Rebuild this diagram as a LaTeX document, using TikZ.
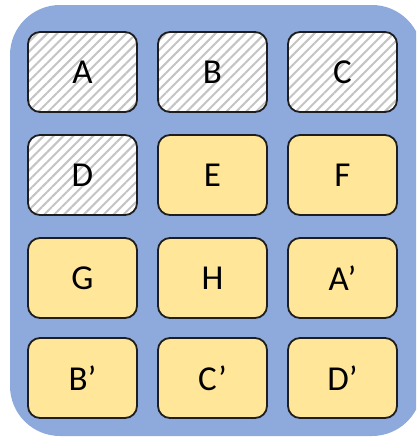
\documentclass[tikz,border=0pt]{standalone}
\usepackage{fontspec}
\setmainfont{Carlito}
\usetikzlibrary{patterns.meta}
\definecolor{bgblue}{HTML}{8EA9DB}
\definecolor{boxyellow}{HTML}{FFE699}
\definecolor{edge}{HTML}{1E1E1E}
\definecolor{hatch}{HTML}{C4C4C4}
\tikzset{
  cell/.style={draw=edge, line width=1.8pt, rounded corners=12pt,
    minimum width=109pt, minimum height=80pt, inner sep=0pt,
    font=\fontsize{35}{35}\selectfont},
  filled/.style={cell, fill=boxyellow},
  hatched/.style={cell, preaction={fill=white},
    preaction={pattern={Lines[angle=45, distance=7pt, line width=2pt]}, pattern color=hatch}},
}
\begin{document}
\begin{tikzpicture}[x=1pt, y=-1pt]
\useasboundingbox (0,0) rectangle (416,437);
\begin{scope}
\clip (0,0) rectangle (416,437);
\fill[bgblue, rounded corners=50pt] (10,5) rectangle (422,436);
\end{scope}
\node[hatched] (A) at (82.5,72) {A};
\node[hatched] (B) at (212.5,72) {B};
\node[hatched] (C) at (342.5,72) {C};
\node[hatched] (D) at (82.5,175) {D};
\node[filled] (E) at (212.5,175) {E};
\node[filled] (F) at (342.5,175) {F};
\node[filled] (G) at (82.5,278) {G};
\node[filled] (H) at (212.5,278) {H};
\node[filled] (A2) at (342.5,278) {A’};
\node[filled] (B2) at (82.5,378) {B’};
\node[filled] (C2) at (212.5,378) {C’};
\node[filled] (D2) at (342.5,378) {D’};
\end{tikzpicture}
\end{document}
